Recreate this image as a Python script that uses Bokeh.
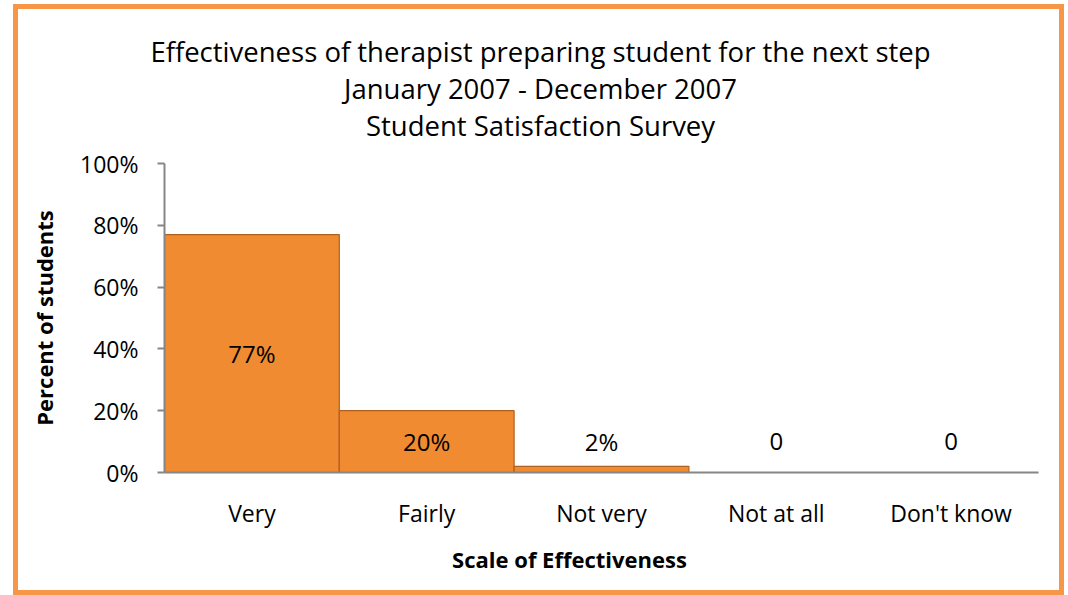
from bokeh.plotting import figure
from bokeh.models import ColumnDataSource, LabelSet, Label, FixedTicker, Range1d
from bokeh.core.properties import value
from bokeh.embed import file_html
from bokeh.resources import INLINE

categories = ["Very", "Fairly", "Not very", "Not at all", "Don't know"]
percent = [77, 20, 2, 0, 0]
bar_labels = ["77%", "20%", "2%", "0", "0"]
y_ticks = [0, 20, 40, 60, 80, 100]
y_tick_labels = ["0%", "20%", "40%", "60%", "80%", "100%"]
title_lines = [
    "Effectiveness of therapist preparing student for the next step",
    "January 2007 - December 2007",
    "Student Satisfaction Survey",
]
x_title = "Scale of Effectiveness"
y_title = "Percent of students"

FONT = "Open Sans"
W, H = 1051, 591

label_y = [max(v / 2, 10) for v in percent]
src = ColumnDataSource(dict(cat=categories, val=percent, lab=bar_labels, ly=label_y))

p = figure(x_range=categories, y_range=Range1d(0, 100), width=W, height=H,
           output_backend="svg", toolbar_location=None,
           min_border_left=151, min_border_right=26, min_border_top=159, min_border_bottom=123,
           margin=(4, 0, 0, 13),
           styles={"box-shadow": "inset 0 0 0 5px #F79646", "background-color": "white"})
p.background_fill_color = "white"
p.border_fill_alpha = 0
p.outline_line_color = None
p.xgrid.grid_line_color = None
p.ygrid.grid_line_color = None

p.vbar(x="cat", top="val", width=1.0, source=src, fill_color="#F08B31",
       line_color="#B0601F", line_width=1.2)

p.add_layout(LabelSet(x="cat", y="ly", text="lab", source=src, text_align="center",
                      text_baseline="middle", text_font=value(FONT), text_font_size="24px",
                      text_color="black"))

# y axis
ya = p.yaxis[0]
ya.ticker = FixedTicker(ticks=y_ticks)
ya.major_label_overrides = {t: l for t, l in zip(y_ticks, y_tick_labels)}
ya.major_label_text_font = FONT
ya.major_label_text_font_size = "23px"
ya.major_label_text_color = "black"
ya.major_tick_out = 7
ya.major_tick_in = 0
ya.minor_tick_line_color = None
ya.major_tick_line_color = "#868686"
ya.axis_line_color = "#868686"
ya.axis_line_width = 2
ya.major_tick_line_width = 2
ya.major_label_standoff = 19
ya.axis_label = y_title
ya.axis_label_text_font = FONT
ya.axis_label_text_font_size = "22px"
ya.axis_label_text_font_style = "bold"
ya.axis_label_text_color = "black"
ya.axis_label_standoff = 18

# x axis
xa = p.xaxis[0]
xa.major_tick_line_color = None
xa.major_tick_out = 0
xa.major_tick_in = 0
xa.minor_tick_line_color = None
xa.axis_line_color = "#868686"
xa.axis_line_width = 2
xa.major_label_text_font = FONT
xa.major_label_text_font_size = "23px"
xa.major_label_text_color = "black"
xa.major_label_standoff = 24

# chart title lines, each in its own panel above the frame (added nearest-first)
for line in reversed(title_lines):
    p.add_layout(Label(x=376, y=38, x_units="screen", y_units="screen", text=line,
                       text_align="center", text_baseline="middle", text_font=FONT,
                       text_font_size="27.5px", text_color="black"), "above")

# x axis title, held in the outermost panel so it is not clipped to the frame
p.add_layout(Label(x=405, y=-506, x_units="screen", y_units="screen", text=x_title,
                   text_align="center", text_baseline="middle", text_font=FONT,
                   text_font_size="22px", text_font_style="bold", text_color="black"), "above")

open("out.html", "w").write(file_html(p, INLINE))
